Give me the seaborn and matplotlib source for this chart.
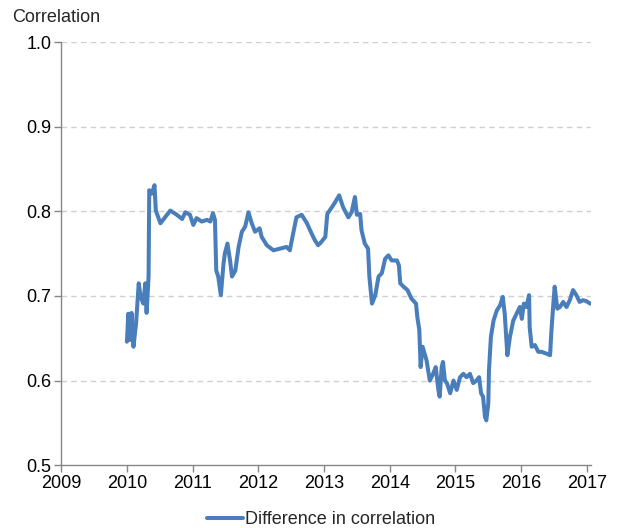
import matplotlib
matplotlib.use("Agg")
import matplotlib.pyplot as plt
import seaborn as sns
import pandas as pd

# Fractional year and correlation values
dates = [
    2010.00, 2010.01, 2010.02, 2010.05, 2010.07, 2010.10, 2010.14, 2010.18, 2010.21, 2010.25,
    2010.28, 2010.30, 2010.33, 2010.34, 2010.38, 2010.42, 2010.44, 2010.51, 2010.58, 2010.66,
    2010.76, 2010.84, 2010.89, 2010.96, 2011.01, 2011.06, 2011.14, 2011.22, 2011.27, 2011.31,
    2011.34, 2011.36, 2011.39, 2011.43, 2011.47, 2011.49, 2011.53, 2011.57, 2011.60, 2011.65,
    2011.70, 2011.75, 2011.80, 2011.85, 2011.90, 2011.95, 2012.02, 2012.05, 2012.13, 2012.23,
    2012.33, 2012.43, 2012.48, 2012.52, 2012.58, 2012.66, 2012.74, 2012.81, 2012.86, 2012.91,
    2012.96, 2013.02, 2013.05, 2013.12, 2013.17, 2013.23, 2013.29, 2013.37, 2013.42, 2013.47,
    2013.50, 2013.55, 2013.57, 2013.62, 2013.67, 2013.69, 2013.73, 2013.78, 2013.83, 2013.88,
    2013.93, 2013.98, 2014.03, 2014.11, 2014.14, 2014.16, 2014.21, 2014.27, 2014.33, 2014.40,
    2014.42, 2014.45, 2014.47, 2014.50, 2014.56, 2014.61, 2014.66, 2014.70, 2014.74, 2014.76,
    2014.79, 2014.81, 2014.84, 2014.87, 2014.92, 2014.97, 2015.02, 2015.07, 2015.12, 2015.17,
    2015.22, 2015.27, 2015.32, 2015.36, 2015.39, 2015.42, 2015.45, 2015.47, 2015.50, 2015.51,
    2015.54, 2015.58, 2015.63, 2015.68, 2015.72, 2015.75, 2015.79, 2015.83, 2015.88, 2015.93,
    2015.98, 2016.01, 2016.04, 2016.08, 2016.12, 2016.13, 2016.16, 2016.21, 2016.26, 2016.31,
    2016.38, 2016.44, 2016.46, 2016.49, 2016.51, 2016.55, 2016.59, 2016.64, 2016.69, 2016.74,
    2016.79, 2016.84, 2016.89, 2016.94, 2016.99, 2017.05,
]
values = [
    0.646, 0.660, 0.679, 0.648, 0.680, 0.640, 0.668, 0.715, 0.699, 0.691,
    0.715, 0.680, 0.723, 0.825, 0.821, 0.831, 0.801, 0.786, 0.793, 0.801,
    0.796, 0.791, 0.799, 0.796, 0.784, 0.792, 0.788, 0.790, 0.788, 0.798,
    0.790, 0.730, 0.723, 0.701, 0.738, 0.750, 0.762, 0.742, 0.723, 0.730,
    0.758, 0.776, 0.782, 0.799, 0.786, 0.776, 0.780, 0.770, 0.760, 0.754,
    0.756, 0.758, 0.754, 0.770, 0.793, 0.796, 0.786, 0.774, 0.766, 0.760,
    0.764, 0.770, 0.797, 0.805, 0.811, 0.819, 0.805, 0.793, 0.799, 0.817,
    0.796, 0.797, 0.778, 0.762, 0.756, 0.723, 0.691, 0.701, 0.723, 0.727,
    0.744, 0.748, 0.742, 0.742, 0.736, 0.715, 0.711, 0.707, 0.697, 0.691,
    0.675, 0.660, 0.616, 0.640, 0.624, 0.600, 0.608, 0.616, 0.589, 0.581,
    0.616, 0.622, 0.600, 0.597, 0.585, 0.600, 0.589, 0.604, 0.608, 0.604,
    0.608, 0.597, 0.600, 0.604, 0.585, 0.581, 0.557, 0.553, 0.573, 0.612,
    0.652, 0.671, 0.683, 0.689, 0.699, 0.679, 0.630, 0.652, 0.671, 0.679,
    0.687, 0.673, 0.691, 0.687, 0.701, 0.663, 0.640, 0.642, 0.634, 0.634,
    0.632, 0.630, 0.658, 0.691, 0.711, 0.685, 0.687, 0.693, 0.687, 0.695,
    0.707, 0.701, 0.693, 0.695, 0.694, 0.691,
]
year_ticks = [2009, 2010, 2011, 2012, 2013, 2014, 2015, 2016, 2017]
y_ticks = [0.5, 0.6, 0.7, 0.8, 0.9, 1.0]
series_name = "Difference in correlation"

df = pd.DataFrame({"date": dates, "value": values, "series": series_name})

sns.set_theme(style="white")
plt.rcParams["font.family"] = ["Liberation Sans", "DejaVu Sans"]

fig = plt.figure(figsize=(6.18, 5.28), dpi=100)
ax = fig.add_axes([0.099, 0.119, 0.857, 0.801])

sns.lineplot(data=df, x="date", y="value", hue="series", palette=["#4A7EBB"],
             linewidth=2.9, ax=ax, legend=True, sort=False)

ax.set_xlim(2009, 2017.06)
ax.set_ylim(0.5, 1.0)
ax.set_xticks(year_ticks)
ax.set_xticklabels([str(y) for y in year_ticks])
ax.set_yticks(y_ticks)
ax.set_yticklabels([f"{v:.1f}" for v in y_ticks])

for v in y_ticks[1:]:
    ax.axhline(v, color="#D0D0D0", linestyle=(0, (4, 3)), linewidth=1.0, zorder=0)

for side in ["top", "right"]:
    ax.spines[side].set_visible(False)
for side in ["left", "bottom"]:
    ax.spines[side].set_color("#868686")
    ax.spines[side].set_linewidth(1.0)

ax.tick_params(axis="both", which="major", direction="out", length=5, width=1,
               color="#868686", labelsize=13, labelcolor="black", pad=2,
               left=True, bottom=True)
ax.set_xlabel("")
ax.set_ylabel("")

fig.text(0.02, 0.966, "Correlation", fontsize=13, ha="left", va="center")

leg = ax.legend(loc="upper center", bbox_to_anchor=(0.49, -0.07), frameon=False,
                fontsize=13, handlelength=2.0, handletextpad=0.1)

fig.savefig("out.png", dpi=100)
